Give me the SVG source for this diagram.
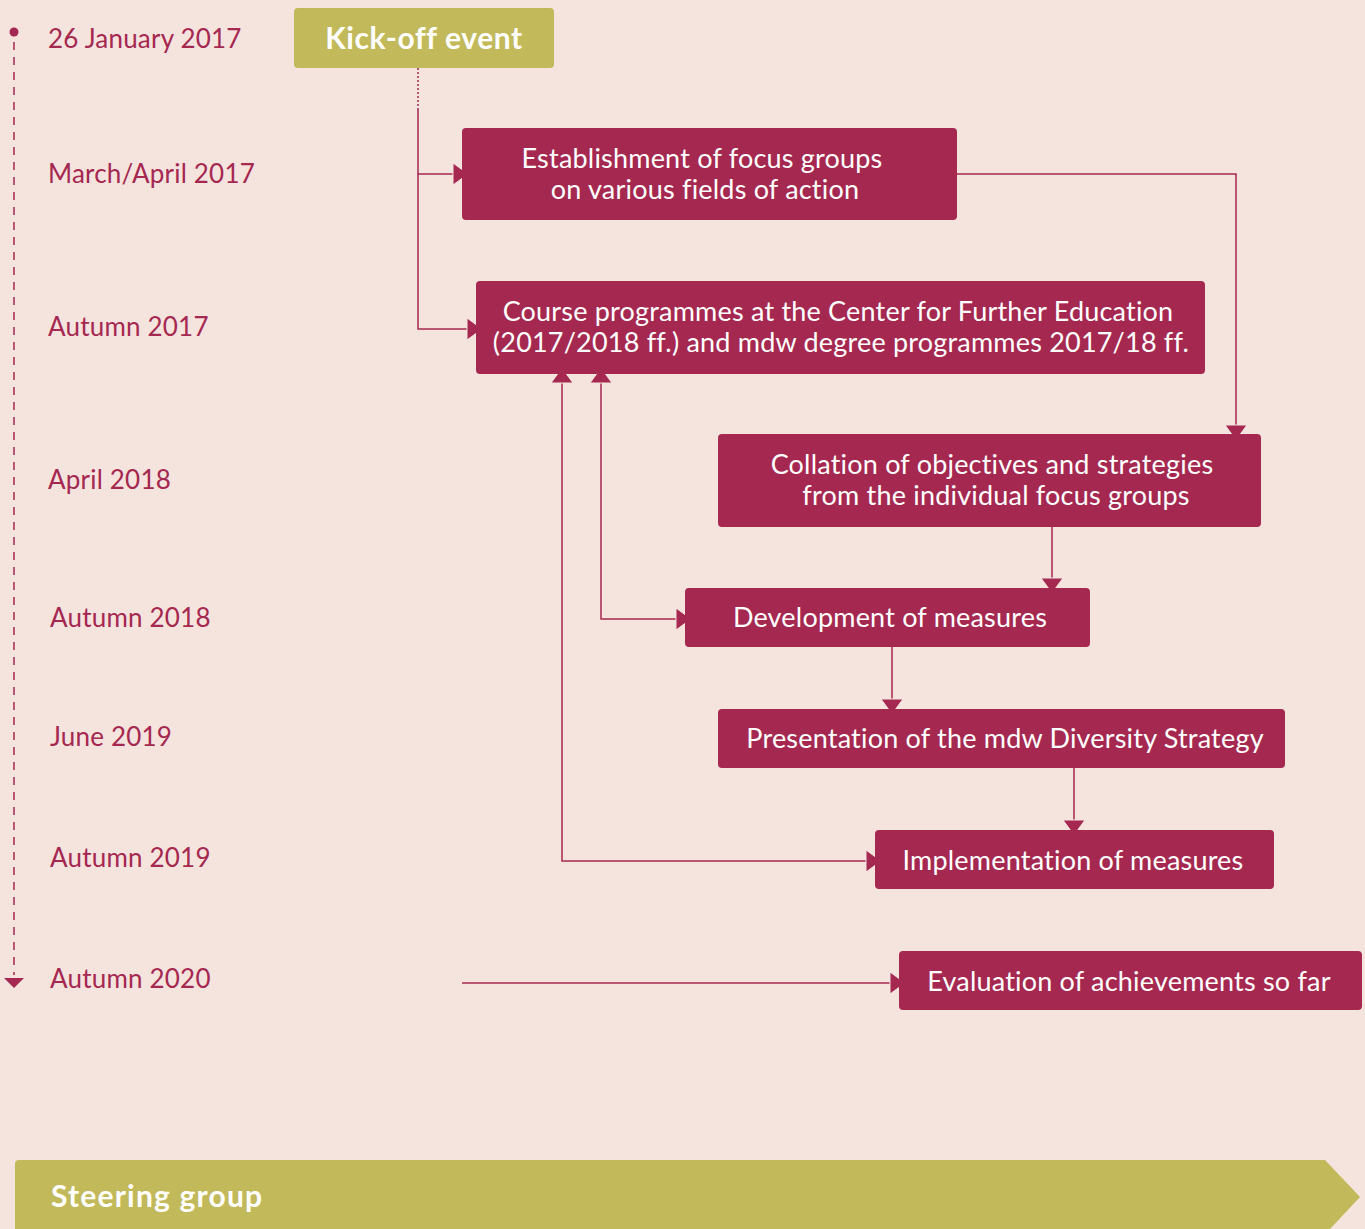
<svg xmlns="http://www.w3.org/2000/svg" width="1365" height="1229" viewBox="0 0 1365 1229">
<defs>
<style>
.bg{fill:#f5e3de}
.box{fill:#a52850}
.olive{fill:#c2b95a}
.date{font-family:Lato,"Noto Sans",sans-serif;font-size:26px;letter-spacing:0.2px;fill:#a52850}
.t{font-family:Lato,"Noto Sans",sans-serif;font-size:27px;letter-spacing:0.2px;fill:#ffffff;text-anchor:middle}
.tb{font-family:Lato,"Noto Sans",sans-serif;font-size:30px;font-weight:bold;letter-spacing:0.6px;fill:#ffffff}
.ln{fill:none;stroke:#a52850;stroke-width:1.5}
</style>
<marker id="ah" markerUnits="userSpaceOnUse" markerWidth="20" markerHeight="26" refX="16" refY="12" orient="auto-start-reverse" viewBox="0 0 20 26">
<path d="M1,1 L16,12 L1,23 z" fill="#a52850" stroke="#f5e3de" stroke-width="1"/>
</marker>
</defs>
<rect class="bg" x="0" y="0" width="1365" height="1229"/>

<g id="timeline">
<circle cx="14" cy="32" r="4.5" fill="#a52850"/>
<line x1="14" y1="42" x2="14" y2="975" stroke="#a52850" stroke-width="1.5" stroke-dasharray="8,7"/>
<path d="M4,978 L24,978 L14,988 z" fill="#a52850"/>
<text class="date" x="48" y="48">26 January 2017</text>
<text class="date" x="48" y="183">March/April 2017</text>
<text class="date" x="48" y="336">Autumn 2017</text>
<text class="date" x="48" y="489">April 2018</text>
<text class="date" x="50" y="627">Autumn 2018</text>
<text class="date" x="50" y="746">June 2019</text>
<text class="date" x="50" y="867">Autumn 2019</text>
<text class="date" x="50" y="988">Autumn 2020</text>
</g>

<g id="connectors">
<line x1="418" y1="68" x2="418" y2="110" stroke="#a52850" stroke-width="1.5" stroke-dasharray="2,2"/>
<path class="ln" d="M418,110 L418,174 L468,174" marker-end="url(#ah)"/>
<path class="ln" d="M418,174 L418,329 L482,329" marker-end="url(#ah)"/>
<path class="ln" d="M957,174 L1236,174 L1236,440" marker-end="url(#ah)"/>
<path class="ln" d="M1052,527 L1052,593" marker-end="url(#ah)"/>
<path class="ln" d="M892,647 L892,714" marker-end="url(#ah)"/>
<path class="ln" d="M1074,768 L1074,835" marker-end="url(#ah)"/>
<path class="ln" d="M562,368 L562,861 L881,861" marker-start="url(#ah)" marker-end="url(#ah)"/>
<path class="ln" d="M601,368 L601,619 L691,619" marker-start="url(#ah)" marker-end="url(#ah)"/>
<path class="ln" d="M462,983 L905,983" marker-end="url(#ah)"/>
</g>

<g id="kickoff">
<rect class="olive" x="294" y="8" width="260" height="60" rx="4"/>
<text class="tb" x="424" y="49" text-anchor="middle">Kick-off event</text>
</g>

<g id="establishment">
<rect class="box" x="462" y="128" width="495" height="92" rx="4"/>
<text class="t" x="702" y="168">Establishment of focus groups</text>
<text class="t" x="705" y="199">on various fields of action</text>
</g>

<g id="course">
<rect class="box" x="476" y="281" width="729" height="93" rx="4"/>
<text class="t" x="838" y="321">Course programmes at the Center for Further Education</text>
<text class="t" x="841" y="352">(2017/2018 ff.) and mdw degree programmes 2017/18 ff.</text>
</g>

<g id="collation">
<rect class="box" x="718" y="434" width="543" height="93" rx="4"/>
<text class="t" x="992" y="474">Collation of objectives and strategies</text>
<text class="t" x="996" y="505">from the individual focus groups</text>
</g>

<g id="development">
<rect class="box" x="685" y="588" width="405" height="59" rx="4"/>
<text class="t" x="890" y="627">Development of measures</text>
</g>

<g id="presentation">
<rect class="box" x="718" y="709" width="567" height="59" rx="4"/>
<text class="t" x="1005" y="748">Presentation of the mdw Diversity Strategy</text>
</g>

<g id="implementation">
<rect class="box" x="875" y="830" width="399" height="59" rx="4"/>
<text class="t" x="1073" y="870">Implementation of measures</text>
</g>

<g id="evaluation">
<rect class="box" x="899" y="951" width="463" height="59" rx="4"/>
<text class="t" x="1129" y="991">Evaluation of achievements so far</text>
</g>

<g id="steering">
<path class="olive" d="M19,1160 L1325,1160 L1360,1197 L1330,1229 L15,1229 L15,1164 Q15,1160 19,1160 z"/>
<text class="tb" x="51" y="1207" style="letter-spacing:1.2px">Steering group</text>
</g>
</svg>
